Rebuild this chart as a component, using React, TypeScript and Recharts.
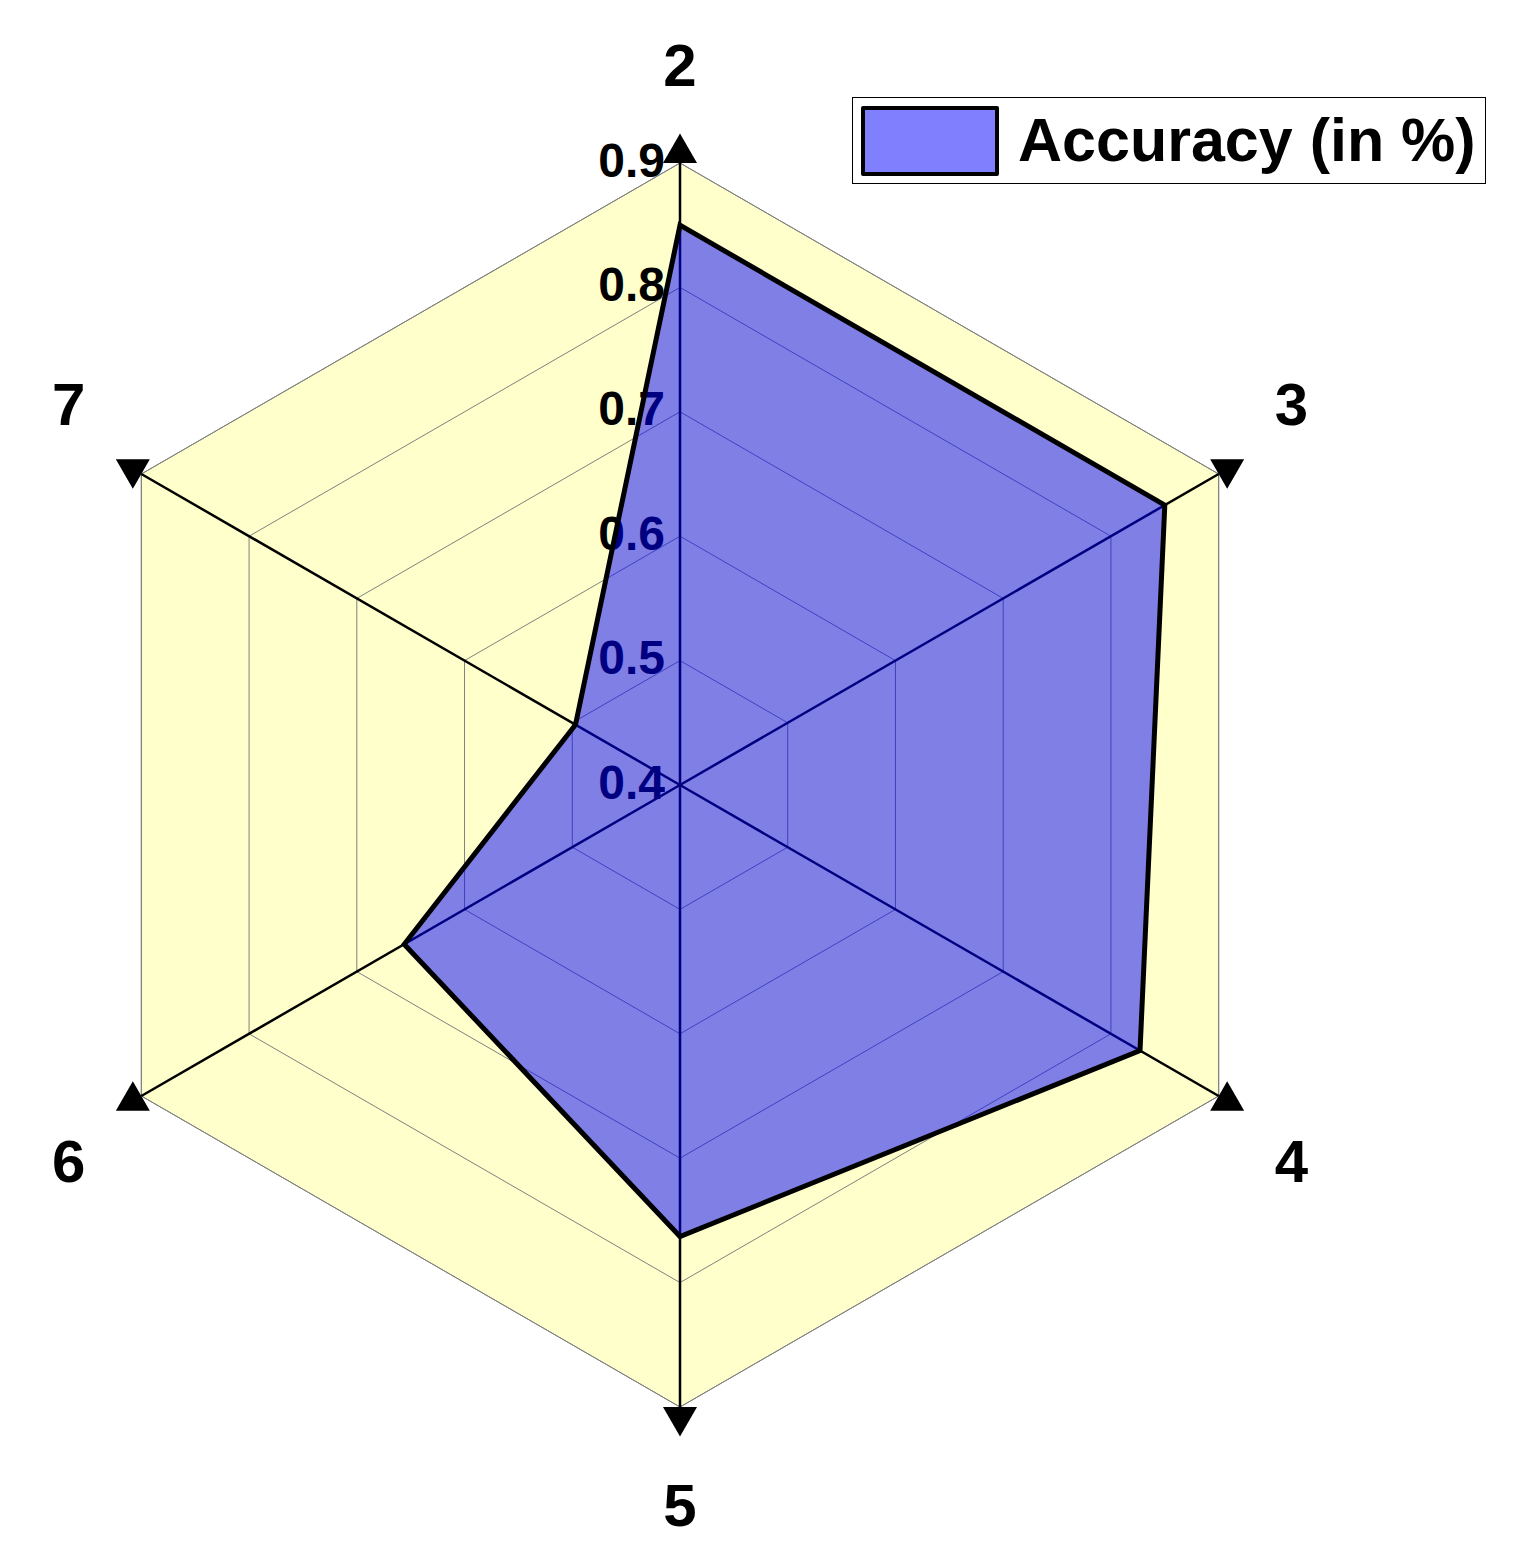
import { Legend, PolarAngleAxis, PolarGrid, PolarRadiusAxis, Radar, RadarChart } from 'recharts'

const axes = ['2', '3', '4', '5', '6', '7']
const accuracy = [0.85, 0.85, 0.827, 0.763, 0.656, 0.497]
const radiusTicks = [0.4, 0.5, 0.6, 0.7, 0.8, 0.9]
const seriesName = 'Accuracy (in %)'

const data = axes.map((axis, i) => ({ axis, accuracy: accuracy[i] }))

const CX = 672
const CY = 777
const OUTER = 622
const FONT = '"Liberation Sans", Arial, sans-serif'

function AngleTick(props: any) {
    const { x, y, payload } = props
    const a = Math.atan2(y - CY, x - CX)
    const ux = Math.cos(a)
    const uy = Math.sin(a)
    const bx = CX + OUTER * ux
    const by = CY + OUTER * uy
    const side = 34
    const h = (side * Math.sqrt(3)) / 2
    const px = -uy
    const py = ux
    const pts = [
        [bx + h * ux, by + h * uy],
        [bx + (side / 2) * px, by + (side / 2) * py],
        [bx - (side / 2) * px, by - (side / 2) * py],
    ]
    let lx = CX + 706 * ux
    let ly = CY + 706 * uy
    if (Math.abs(uy) > 0.9) ly += 14 * Math.sign(uy)
    else ly += uy < 0 ? -28 : 23
    return (
        <g>
            <polygon points={pts.map((p) => p.join(',')).join(' ')} fill="#000" />
            <text x={lx} y={ly} textAnchor="middle" dominantBaseline="central" fontFamily={FONT} fontWeight="bold" fontSize={60} fill="#000">
                {payload.value}
            </text>
        </g>
    )
}

function RadiusTick(props: any) {
    const { x, y, payload } = props
    return (
        <text x={x - 15} y={y - 3} textAnchor="end" dominantBaseline="central" fontFamily={FONT} fontWeight="bold" fontSize={48} fill="#000">
            {Number(payload.value).toFixed(1)}
        </text>
    )
}

function LegendBox() {
    return (
        <div
            style={{
                width: 632,
                height: 85,
                border: '1px solid #000',
                display: 'flex',
                alignItems: 'center',
                boxSizing: 'content-box',
                background: '#fff',
            }}
        >
            <div style={{ width: 130, height: 62, marginLeft: 8, background: '#8080ff', border: '4px solid #000', borderRadius: 2 }} />
            <span style={{ marginLeft: 19, fontFamily: FONT, fontWeight: 'bold', fontSize: 61, lineHeight: 1, color: '#000' }}>{seriesName}</span>
        </div>
    )
}

export default function App() {
    return (
        <div style={{ width: 1506, height: 1552, background: '#fff' }}>
            <RadarChart width={1506} height={1552} data={data} cx={CX} cy={CY} outerRadius={OUTER}>
                <PolarGrid gridType="polygon" radialLines={false} stroke="#808080" strokeWidth={1} fill="#ffffcc" />
                <PolarGrid gridType="polygon" polarRadius={[]} stroke="#000" strokeWidth={2.5} />
                <PolarAngleAxis dataKey="axis" tick={<AngleTick />} tickLine={false} axisLine={false} />
                <PolarRadiusAxis
                    type="number"
                    angle={90}
                    domain={[0.4, 0.9]}
                    allowDataOverflow
                    allowDecimals
                    ticks={radiusTicks}
                    tickCount={6}
                    tick={<RadiusTick />}
                    axisLine={false}
                    tickLine={false}
                    {...({ zIndex: 50 } as any)}
                />
                <Radar
                    name={seriesName}
                    dataKey="accuracy"
                    stroke="#000"
                    strokeWidth={5}
                    fill="#0000ff"
                    fillOpacity={0.5}
                    isAnimationActive={false}
                />
                <Legend content={<LegendBox />} wrapperStyle={{ position: 'absolute', left: 844, top: 89, width: 634 }} />
            </RadarChart>
        </div>
    )
}
